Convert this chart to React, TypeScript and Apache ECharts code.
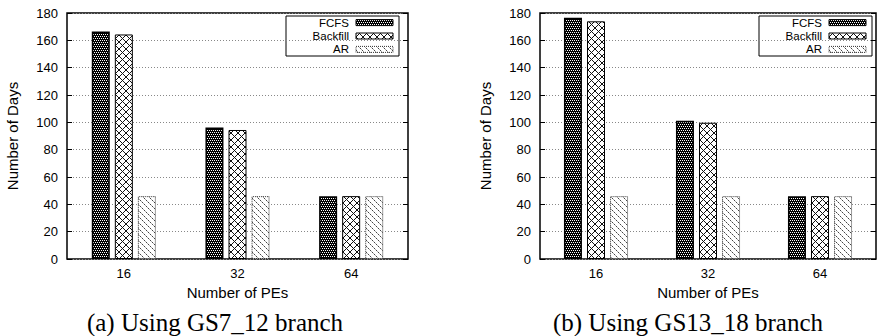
import React, { useEffect, useRef } from "react";
import * as echarts from "echarts";

const categories = ["16", "32", "64"];
const seriesNames = ["FCFS", "Backfill", "AR"];
const fcfsA = [166.5, 96.3, 46];
const backfillA = [164.3, 94.4, 46];
const arA = [46, 46, 46];
const fcfsB = [176.5, 101.2, 46];
const backfillB = [173.9, 99.7, 46];
const arB = [46, 46, 46];
const yMin = 0;
const yMax = 180;
const yStep = 20;
const captions = ["(a) Using GS7_12 branch", "(b) Using GS13_18 branch"];
const xTitle = "Number of PEs";
const yTitle = "Number of Days";

function tile(size: number, draw: (ctx: CanvasRenderingContext2D, s: number) => void) {
  const c = document.createElement("canvas");
  c.width = size;
  c.height = size;
  const ctx = c.getContext("2d")!;
  draw(ctx, size);
  return { image: c.toDataURL(), repeat: "repeat", imageWidth: size, imageHeight: size };
}

function makePatterns() {
  const fcfs = tile(4, (ctx) => {
    ctx.fillStyle = "#000";
    ctx.fillRect(0, 0, 4, 4);
    ctx.fillStyle = "#fff";
    ctx.fillRect(0, 0, 1, 1);
    ctx.fillRect(2, 0, 1, 1);
    ctx.fillRect(1, 2, 1, 1);
    ctx.fillRect(3, 2, 1, 1);
  });
  const backfill = tile(7, (ctx, s) => {
    ctx.fillStyle = "#fff";
    ctx.fillRect(0, 0, s, s);
    ctx.strokeStyle = "#111";
    ctx.lineWidth = 1;
    ctx.beginPath();
    ctx.moveTo(0, 0);
    ctx.lineTo(s, s);
    ctx.moveTo(0, s);
    ctx.lineTo(s, 0);
    ctx.stroke();
  });
  const ar = tile(6, (ctx, s) => {
    ctx.fillStyle = "#fff";
    ctx.fillRect(0, 0, s, s);
    ctx.fillStyle = "#444";
    for (let i = 0; i < s; i += 2) ctx.fillRect(i, i, 1, 1);
    ctx.fillStyle = "#aaa";
    for (let i = 1; i < s; i += 2) ctx.fillRect(i, i, 1, 1);
  });
  return { fcfs, backfill, ar };
}

export default function App() {
  const ref = useRef<HTMLDivElement>(null);
  useEffect(() => {
    document.body.style.margin = "0";
    const chart = echarts.init(ref.current!, null, { renderer: "svg" });
    const p = makePatterns();
    const font = "Liberation Sans";
    const grids = [
      { left: 67, top: 13, width: 341, height: 246, show: true, borderColor: "#000", borderWidth: 1.5 },
      { left: 540, top: 13, width: 336, height: 246, show: true, borderColor: "#000", borderWidth: 1.5 },
    ];
    const xAxes: any[] = [];
    const yAxes: any[] = [];
    [0, 1].forEach((g) => {
      xAxes.push({
        type: "category",
        gridIndex: g,
        data: categories,
        position: "bottom",
        axisLine: { show: false },
        axisTick: { inside: true, alignWithLabel: true, length: 5, lineStyle: { color: "#000" } },
        axisLabel: { fontSize: 13, color: "#000", margin: 8, fontFamily: font },
        name: xTitle,
        nameLocation: "middle",
        nameGap: 26,
        nameTextStyle: { fontSize: 15, color: "#000", fontFamily: font },
      });
      xAxes.push({
        type: "category",
        gridIndex: g,
        data: categories,
        position: "top",
        axisLine: { show: false },
        axisTick: { inside: true, alignWithLabel: true, length: 5, lineStyle: { color: "#000" } },
        axisLabel: { show: false },
      });
      yAxes.push({
        type: "value",
        gridIndex: g,
        min: yMin,
        max: yMax,
        interval: yStep,
        position: "left",
        axisLine: { show: false },
        axisTick: { show: true, inside: true, length: 5, lineStyle: { color: "#000" } },
        axisLabel: { fontSize: 13, color: "#000", margin: 9, fontFamily: font },
        splitLine: { show: true, lineStyle: { type: [1, 2], color: "#888", width: 1 } },
        name: yTitle,
        nameLocation: "middle",
        nameGap: 47,
        nameTextStyle: { fontSize: 15, color: "#000", fontFamily: font },
      });
      yAxes.push({
        type: "value",
        gridIndex: g,
        min: yMin,
        max: yMax,
        interval: yStep,
        position: "right",
        axisLine: { show: false },
        axisTick: { show: true, inside: true, length: 5, lineStyle: { color: "#000" } },
        axisLabel: { show: false },
        splitLine: { show: false },
      });
    });
    const styles: any[] = [
      { color: p.fcfs, borderColor: "#000", borderWidth: 1.5 },
      { color: p.backfill, borderColor: "#000", borderWidth: 1 },
      { color: p.ar, borderColor: "#333", borderWidth: 1, borderType: "dotted" },
    ];
    const dataSets = [
      [fcfsA, backfillA, arA],
      [fcfsB, backfillB, arB],
    ];
    const series: any[] = [];
    dataSets.forEach((set, g) => {
      set.forEach((vals, i) => {
        series.push({
          type: "bar",
          name: seriesNames[i],
          xAxisIndex: g * 2,
          yAxisIndex: g * 2,
          data: vals,
          barWidth: 18,
          barGap: "28%",
          itemStyle: styles[i],
        });
      });
    });

    const rowGap = 13.4;
    const legendGraphic = (bx: number, by: number) => {
      const children: any[] = [
        {
          type: "rect",
          shape: { x: 0, y: 0, width: 113, height: 40 },
          style: { fill: "#fff", stroke: "#000", lineWidth: 1 },
        },
      ];
      seriesNames.forEach((n, i) => {
        const cy = 6.6 + i * rowGap;
        const s = styles[i];
        children.push({
          type: "text",
          x: 63,
          y: cy,
          style: {
            text: n,
            fontSize: 11.5,
            lineHeight: 12,
            fontFamily: font,
            fill: "#000",
            textAlign: "right",
            textVerticalAlign: "middle",
          },
        });
        children.push({
          type: "rect",
          shape: { x: 70, y: cy - 3, width: 37, height: 6 },
          style: {
            fill: s.color,
            stroke: s.borderColor,
            lineWidth: 1,
            lineDash: s.borderType === "dotted" ? [1, 1] : null,
          },
        });
      });
      return { type: "group", x: bx, y: by, z: 100, children };
    };

    chart.setOption({
      animation: false,
      backgroundColor: "#fff",
      grid: grids,
      xAxis: xAxes,
      yAxis: yAxes,
      series,
      graphic: [
        legendGraphic(286, 16),
        legendGraphic(759, 16),
        {
          type: "text",
          x: 215,
          y: 322,
          style: {
            text: captions[0],
            fontSize: 25,
            fontFamily: "Liberation Serif",
            fill: "#000",
            textAlign: "center",
            textVerticalAlign: "middle",
          },
        },
        {
          type: "text",
          x: 688,
          y: 322,
          style: {
            text: captions[1],
            fontSize: 25,
            fontFamily: "Liberation Serif",
            fill: "#000",
            textAlign: "center",
            textVerticalAlign: "middle",
          },
        },
      ],
    });
    return () => chart.dispose();
  }, []);
  return <div ref={ref} style={{ width: 882, height: 336 }} />;
}
